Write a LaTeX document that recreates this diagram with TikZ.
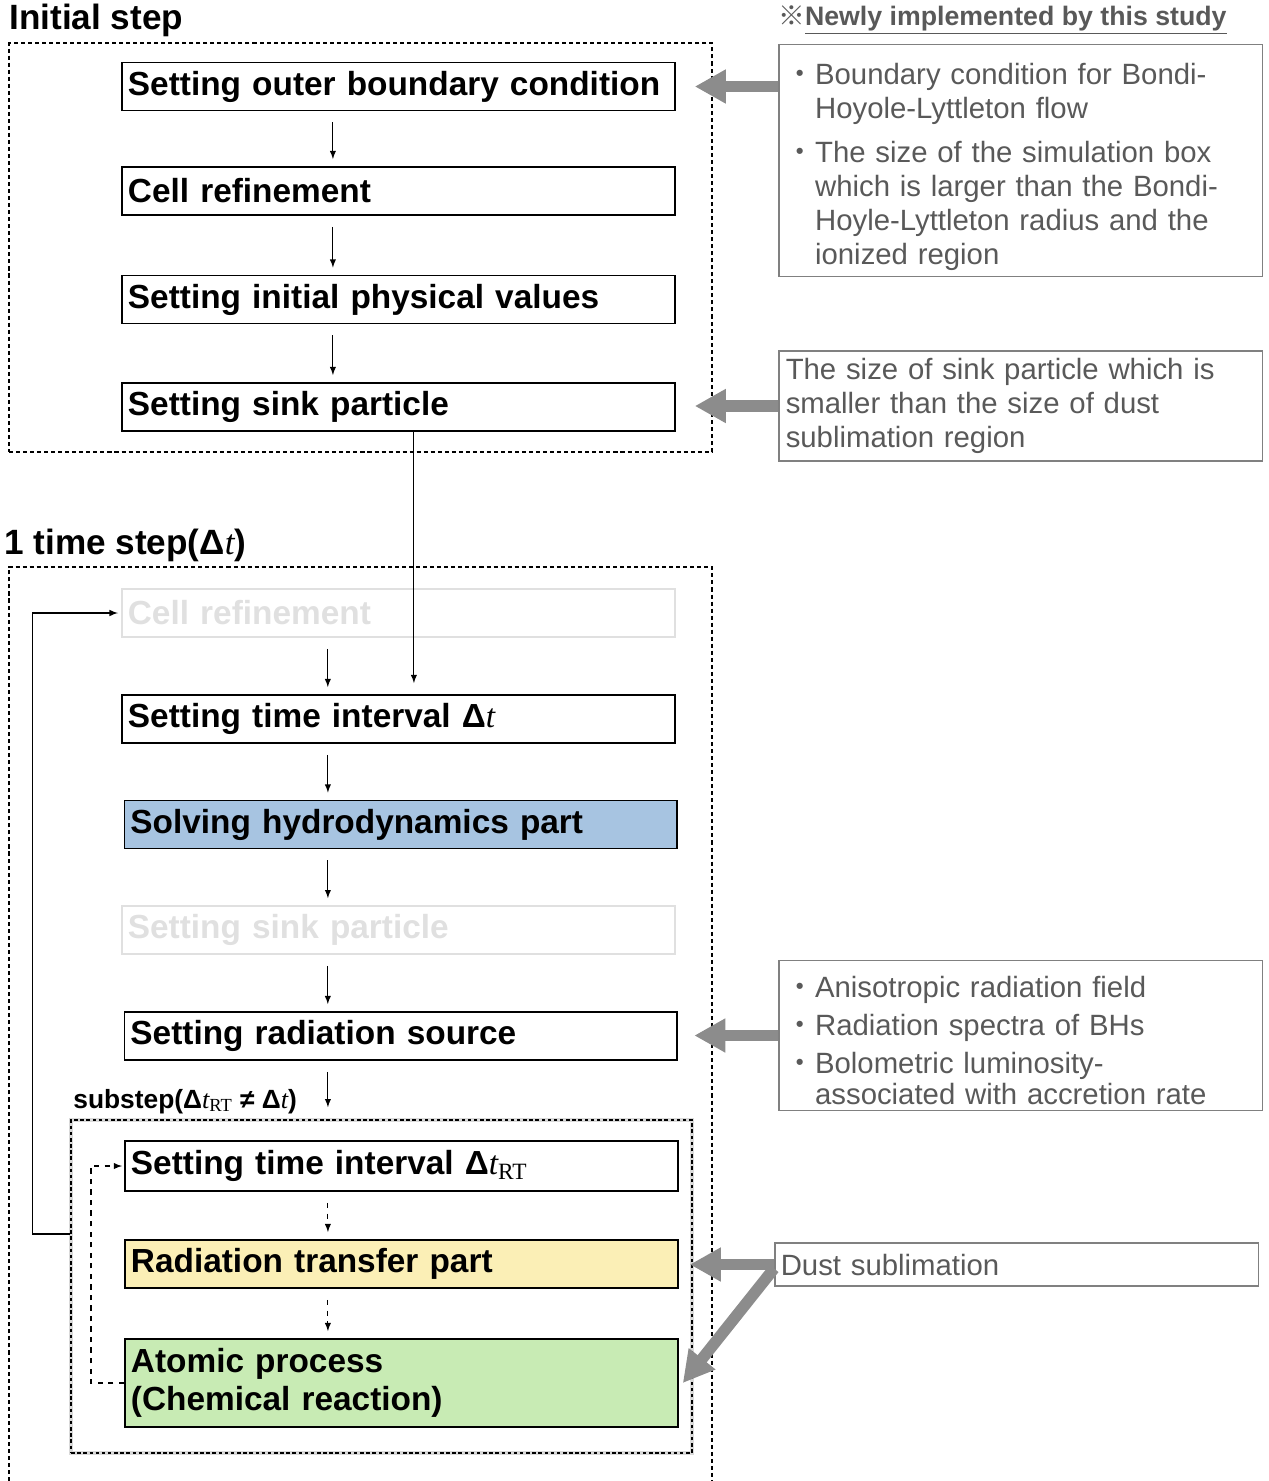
\documentclass[tikz,border=0pt]{standalone}
\usepackage{fontspec}
\setmainfont{Liberation Sans}
\newfontfamily\serifit{Liberation Serif}
\newfontfamily\refmark{Noto Sans CJK JP}
\usepackage{tikz}
\usetikzlibrary{calc,positioning,arrows,arrows.meta,fit,shapes}
\definecolor{hydro}{HTML}{A7C4E1}
\definecolor{rtyel}{HTML}{FBEFB6}
\definecolor{atgreen}{HTML}{C8EBB4}
\newcommand{\delt}{Δ{\serifit\mdseries\itshape t}}
\newcommand{\deltrt}{Δ{\serifit\mdseries\itshape t}\textsubscript{\serifit\mdseries RT}}
\newcommand{\bitem}{\par\hangindent=1em\hangafter=1\noindent\makebox[1em][c]{\refmark ・}}

\begin{document}
\begin{tikzpicture}[x=0.02cm,y=-0.02cm,
                    stp/.style={draw,line width=1.1pt,anchor=west,text width=10.82cm,inner xsep=0.12cm,inner ysep=0pt,minimum height=0.96cm,align=left,font=\fontsize{19}{22}\selectfont\bfseries},
                    faded/.style={draw=black!12,text=black!12},
                    note/.style={draw=black!50,line width=0.85pt,text=black!65,anchor=west,inner xsep=0.14cm,text width=9.4cm,align=left,font=\fontsize{16.7}{19.3}\selectfont},
                    frm/.style={draw,line width=0.85pt,dash pattern=on 2.3pt off 1.7pt},
                    flow/.style={-latex,line width=0.6pt,shorten <=0.22cm,shorten >=0.14cm},
                    feed/.style={-{Triangle[length=0.62cm,width=0.64cm]},line width=0.23cm,black!45},
                    ttl/.style={anchor=west,inner sep=0pt,font=\fontsize{20}{24}\selectfont\bfseries}]
                                \useasboundingbox (0,0) rectangle (1268,1481);
                                \node[ttl] (inittitle) at (9,20) {Initial step};
                                \node[ttl] (looptitle) at (4,545) {1 time step(\delt)};
                                \node[anchor=west,inner sep=0pt,text=black!65,font=\fontsize{15.2}{18}\selectfont\bfseries] (newmark) at (778,20) {{\refmark ※}\underline{Newly implemented by this study}};

                                \node[frm,minimum width=14.06cm,minimum height=8.18cm] (initbox) at (360.5,247.5) {};
                                \draw[frm] (9,1481) -- (9,567) -- (712,567) -- (712,1481);
                                \node[frm,dash pattern=on 2pt off 1.5pt,line width=1pt,preaction={draw=black!15,line width=2.5pt,solid},minimum width=12.42cm,minimum height=6.66cm] (subbox) at (381.5,1286.5) {};
                                \node[anchor=south west,inner sep=0pt,font=\fontsize{15}{18}\selectfont\bfseries] (sublabel) at (73,1114) {substep(\deltrt\ ≠ \delt)};

                                \node[stp] (outer) at (121,86.5) {Setting outer boundary condition};
                                \node[stp] (cella) at (121,191) {Cell refinement};
                                \node[stp] (initval) at (121,299.5) {Setting initial physical values};
                                \node[stp] (sinka) at (121,407) {Setting sink particle};

                                \node[stp,faded,line width=1pt] (cellb) at (121,613) {Cell refinement};
                                \node[stp] (tint) at (121,719) {Setting time interval \delt};
                                \node[stp,fill=hydro] (hydro) at (123.5,824.5) {Solving hydrodynamics part};
                                \node[stp,faded,line width=1pt] (sinkb) at (121,930) {Setting sink particle};
                                \node[stp] (radsrc) at (123.5,1036) {Setting radiation source};
                                \node[stp,minimum height=1cm] (trt) at (124,1166) {Setting time interval \deltrt};
                                \node[stp,fill=rtyel] (rt) at (124,1264) {Radiation transfer part};
                                \node[stp,fill=atgreen,minimum height=1.76cm] (atomic) at (124,1383) {Atomic process\\(Chemical reaction)};

                                \draw[flow] ($(outer.south)+(-65.5,0)$) -- ($(outer.south |- cella.north)+(-65.5,0)$);
                                \draw[flow] ($(cella.south)+(-65.5,0)$) -- ($(cella.south |- initval.north)+(-65.5,0)$);
                                \draw[flow] ($(initval.south)+(-65.5,0)$) -- ($(initval.south |- sinka.north)+(-65.5,0)$);
                                \draw[-latex,line width=0.6pt,shorten >=0.22cm] ($(sinka.south)+(15.5,0)$) -- ($(tint.north)+(15.5,0)$);

                                \draw[flow] ($(cellb.south)+(-70.5,0)$) -- ($(cellb.south |- tint.north)+(-70.5,0)$);
                                \draw[flow] ($(tint.south)+(-70.5,0)$) -- ($(tint.south |- hydro.north)+(-70.5,0)$);
                                \draw[flow] ($(hydro.south)+(-73,0)$) -- ($(hydro.south |- sinkb.north)+(-73,0)$);
                                \draw[flow] ($(sinkb.south)+(-70.5,0)$) -- ($(sinkb.south |- radsrc.north)+(-70.5,0)$);
                                \draw[flow,shorten >=0.24cm] ($(radsrc.south)+(-73,0)$) -- ($(radsrc.south |- subbox.north)+(-73,0)$);
                                \draw[flow,dashed] ($(trt.south)+(-73.5,0)$) -- ($(trt.south |- rt.north)+(-73.5,0)$);
                                \draw[flow,dashed] ($(rt.south)+(-73.5,0)$) -- ($(rt.south |- atomic.north)+(-73.5,0)$);

                                \draw[-latex,line width=0.7pt,shorten >=0.06cm] ($(subbox.west |- rt.north)+(0,-5)$) -- ++(-38,0) |- (cellb.west);
                                \draw[-latex,dashed,line width=0.6pt,shorten >=0.04cm] (atomic.west) -- ++(-33,0) |- (trt.west);

                                \node[note,minimum height=4.5cm] (notea) at (778,160.5) {\bitem Boundary condition for Bondi-\newline Hoyole-Lyttleton flow\par\vspace{6pt}\bitem The size of the simulation box\newline which is larger than the Bondi-\newline Hoyle-Lyttleton radius and the\newline ionized region\par};
                                \node[note,minimum height=2.2cm] (noteb) at (778,406) {The size of sink particle which is\newline smaller than the size of dust\newline sublimation region};
                                \node[note,minimum height=2.98cm,font=\fontsize{16.7}{17.6}\selectfont] (notec) at (778,1035.5) {\bitem Anisotropic radiation field\par\vspace{4pt}\bitem Radiation spectra of BHs\par\vspace{4pt}\bitem Bolometric luminosity-\newline associated with accretion rate\par};
                                \node[note,minimum height=0.86cm,inner xsep=0.12cm,text width=9.44cm] (noted) at (774,1264.5) {Dust sublimation};

                                \draw[feed] (notea.west |- outer.east) -- ($(outer.east)+(19,0)$);
                                \draw[feed] (noteb.west) -- ($(sinka.east |- noteb.west)+(19,0)$);
                                \draw[feed] (notec.west) -- ($(radsrc.east |- notec.west)+(16,0)$);
                                \draw[feed] (noted.west) -- ($(rt.east |- noted.west)+(11,0)$);
                                \draw[feed] ($(noted.west)+(0,4)$) -- ($(atomic.east)+(4,0)$);
                            \end{tikzpicture}
\end{document}
